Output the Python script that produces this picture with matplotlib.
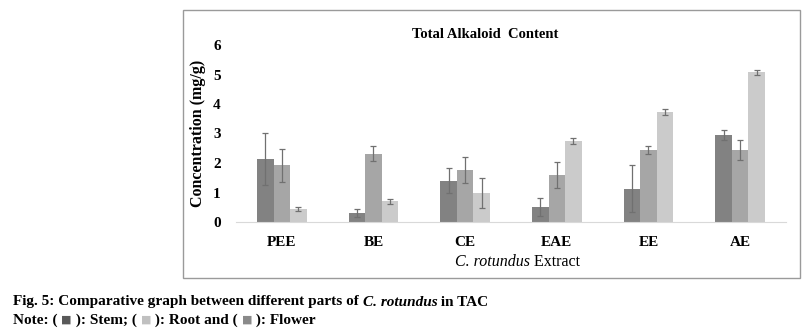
import matplotlib.pyplot as plt
from matplotlib.patches import Rectangle
import numpy as np

# Data
extracts = ['PEE', 'BE', 'CE', 'EAE', 'EE', 'AE']
stem = [2.15, 0.30, 1.40, 0.52, 1.13, 2.94]
stem_err = [0.88, 0.13, 0.43, 0.30, 0.80, 0.17]
flower = [1.92, 2.32, 1.76, 1.58, 2.44, 2.44]
flower_err = [0.56, 0.25, 0.44, 0.44, 0.15, 0.33]
root = [0.45, 0.70, 0.98, 2.75, 3.73, 5.07]
root_err = [0.07, 0.08, 0.50, 0.10, 0.10, 0.08]
yticks = [0, 1, 2, 3, 4, 5, 6]

serif = 'Liberation Serif'
c_stem, c_flower, c_root = '#828282', '#a6a6a6', '#cbcbcb'

fig = plt.figure(figsize=(8.04, 3.35), dpi=100)
fig.patch.set_facecolor('white')

# outer frame of the chart
fig.patches.append(Rectangle((183 / 804, 1 - 278 / 335), 617 / 804, 268 / 335,
                             transform=fig.transFigure, fill=False,
                             edgecolor='#9a9a9a', lw=1.0))

ax = fig.add_axes([236 / 804, 1 - 222 / 335, 550 / 804, 177 / 335])
x = np.arange(len(extracts))
w = 0.18
ekw = dict(ecolor='#707070', elinewidth=0.9, capsize=2.5, capthick=0.9)
ax.bar(x - w, stem, w, yerr=stem_err, color=c_stem, error_kw=ekw)
ax.bar(x, flower, w, yerr=flower_err, color=c_flower, error_kw=ekw)
ax.bar(x + w, root, w, yerr=root_err, color=c_root, error_kw=ekw)

ax.set_xlim(-0.5, len(extracts) - 0.5)
ax.set_ylim(0, 6)
ax.set_yticks(yticks)
ax.set_yticklabels([str(t) for t in yticks], family=serif, fontweight='bold', fontsize=11)
ax.set_xticks(x)
ax.set_xticklabels(extracts, family=serif, fontweight='bold', fontsize=11)
ax.tick_params(length=0)
ax.tick_params(axis='x', pad=10)
ax.tick_params(axis='y', pad=11)
for s in ['top', 'right', 'left']:
    ax.spines[s].set_visible(False)
ax.spines['bottom'].set_color('#d9d9d9')
ax.set_ylabel('Concentration (mg/g)', family=serif, fontweight='bold', fontsize=11.5, labelpad=5)

fig.text(485 / 804, 1 - 35 / 335, 'Total Alkaloid  Content', family=serif,
         fontweight='bold', fontsize=10.5, ha='center', va='center')

# x label: italic species name + regular word
fig.canvas.draw()
r = fig.canvas.get_renderer()


def run_text(x0, y0, parts, size):
    # draw a line of text made of several styled pieces
    for s, kw in parts:
        kw = dict(kw)
        kw.setdefault('fontsize', size)
        t = fig.text(x0, y0, s, va='center', ha='left', **kw)
        bb = t.get_window_extent(renderer=r)
        x0 += bb.width / fig.bbox.width
    return x0


xl = [('C. rotundus', dict(family=serif, style='italic')),
      (' Extract', dict(family=serif))]
tmp = [fig.text(0, 0, s, fontsize=11.5, **kw) for s, kw in xl]
tot = sum(t.get_window_extent(renderer=r).width for t in tmp) / fig.bbox.width
for t in tmp:
    t.remove()
run_text(518 / 804 - tot / 2, 1 - 262 / 335, xl, 11.5)

b = dict(family=serif, fontweight='bold')
bi = dict(family=serif, fontweight='bold', style='italic')
run_text(13 / 804, 1 - 302 / 335,
         [('Fig. 5: Comparative graph between different parts of ', b),
          ('C. rotundus', bi), (' in TAC', b)], 11)
sq = lambda c: dict(family=['DejaVu Sans'], color=c, fontsize=8)
run_text(13 / 804, 1 - 320 / 335,
         [('Note: ( ', b), ('\u25a0', sq('#595959')), (' ): Stem; ( ', b),
          ('\u25a0', sq('#c0c0c0')), (' ): Root and ( ', b),
          ('\u25a0', sq('#8a8a8a')), (' ): Flower', b)], 11)

fig.savefig('out.png', dpi=100)
